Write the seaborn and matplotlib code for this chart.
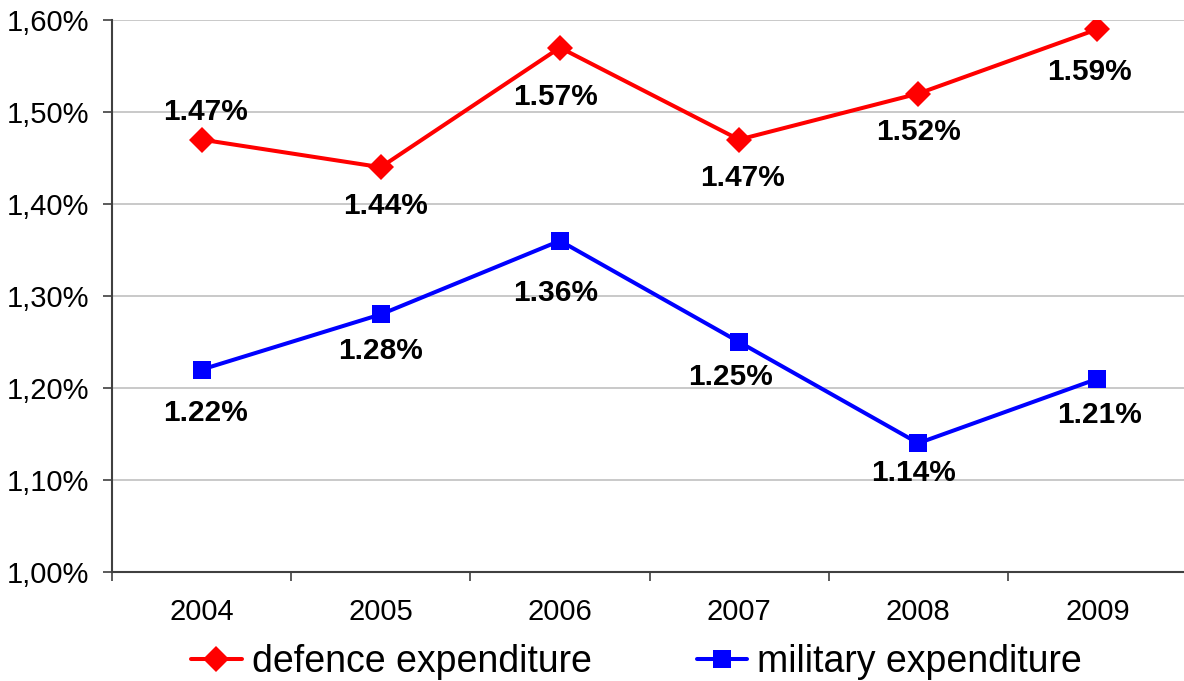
import matplotlib
matplotlib.use("Agg")
import matplotlib.pyplot as plt
import seaborn as sns
import pandas as pd
from matplotlib.ticker import FuncFormatter

years = ["2004", "2005", "2006", "2007", "2008", "2009"]
defence = [1.47, 1.44, 1.57, 1.47, 1.52, 1.59]
military = [1.22, 1.28, 1.36, 1.25, 1.14, 1.21]

# label offsets in pixels (dx, dy; positive dy = up)
defence_offsets = [(4, 28), (5, -39), (-4, -49), (3, -38), (0, -38), (-8, -43)]
military_offsets = [(4, -43), (0, -37), (-4, -52), (-9, -35), (-5, -30), (2, -36)]

sns.set_theme(style="white")
plt.rcParams['font.family'] = ['Liberation Sans', 'DejaVu Sans']
plt.rcParams['text.color'] = 'black'
plt.rcParams['xtick.color'] = 'black'
plt.rcParams['ytick.color'] = 'black'

df = pd.DataFrame({
    "year": years * 2,
    "value": defence + military,
    "series": ["defence expenditure"] * len(years) + ["military expenditure"] * len(years),
})

fig = plt.figure(figsize=(11.84, 6.81), dpi=100)
ax = fig.add_axes([112 / 1184, 1 - 572 / 681, (1187 - 112) / 1184, (572 - 20) / 681])

sns.lineplot(data=df, x="year", y="value", hue="series", style="series",
             palette={"defence expenditure": "#ff0000", "military expenditure": "#0000ff"},
             markers={"defence expenditure": "D", "military expenditure": "s"},
             dashes=False, markersize=10, linewidth=2.9, markeredgewidth=0,
             ax=ax, sort=False)
marker_sizes = {"D": 13, "s": 12.5}
for ln in ax.lines:
    m = ln.get_marker()
    if m in marker_sizes:
        ln.set_markersize(marker_sizes[m])

ax.set_xlim(-0.5, 5.5)
ax.set_ylim(1.0, 1.6)
ax.set_yticks([1.0, 1.1, 1.2, 1.3, 1.4, 1.5, 1.6])
ax.yaxis.set_major_formatter(FuncFormatter(lambda v, p: f"{v:.2f}%".replace(".", ",")))
ax.set_xticks(range(len(years)))
ax.set_xticklabels(years)
ax.set_xticks([i - 0.5 for i in range(len(years) + 1)], minor=True)
ax.tick_params(axis="x", which="major", bottom=True, length=0, pad=19, labelsize=21)
ax.tick_params(axis="x", which="minor", bottom=True, length=6.5, width=1.2, color="#404040", direction="out")
ax.tick_params(axis="y", left=True, length=6.5, width=1.2, color="#404040", direction="out", labelsize=21, pad=10)
ax.yaxis.grid(True, color="#c0c0c0", linewidth=1.2)
ax.set_axisbelow(True)
for s in ["top", "right"]:
    ax.spines[s].set_visible(False)
for s in ["left", "bottom"]:
    ax.spines[s].set_color("#404040")
    ax.spines[s].set_linewidth(1.5)
ax.set_xlabel("")
ax.set_ylabel("")

for vals, offs in [(defence, defence_offsets), (military, military_offsets)]:
    for i, (v, (dx, dy)) in enumerate(zip(vals, offs)):
        ax.annotate(f"{v:.2f}%", (i, v), xytext=(dx, dy), textcoords="offset pixels",
                    ha="center", va="center", fontsize=21.5, fontweight="bold", color="black")

leg = ax.legend(loc="center", bbox_to_anchor=(0.488, -0.163), ncol=2, frameon=False,
                fontsize=27, handlelength=1.35, columnspacing=2.8, handletextpad=0.27,
                borderaxespad=0, borderpad=0)
for h in leg.legend_handles:
    m = h.get_marker()
    h.set_markersize(marker_sizes.get(m, 12))

fig.savefig("out.png", dpi=100)
